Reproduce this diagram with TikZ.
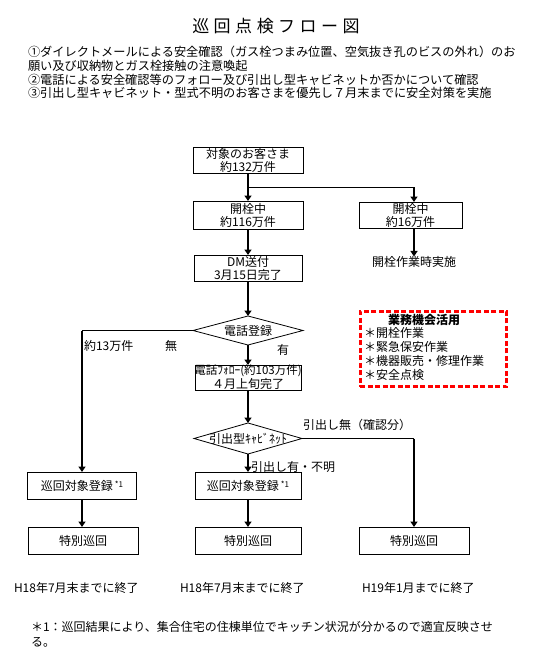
\documentclass[tikz,border=0pt]{standalone}
\usepackage{fontspec}
\setmainfont{Noto Sans CJK JP}
\usetikzlibrary{arrows.meta,shapes.geometric}
\newcommand\ttlgap{\hspace{4.5pt}}
\begin{document}
\begin{tikzpicture}[x=1pt,y=-1pt,
  every node/.style={inner sep=0pt, outer sep=0pt, font=\fontsize{12}{13}\selectfont},
  box/.style={draw, line width=0.8pt, align=center, inner sep=0pt, minimum height=26pt},
  dia/.style={draw, diamond, line width=0.8pt, inner sep=0pt},
  flow/.style={line width=2.6pt, -{Triangle[width=7pt,length=5.5pt]}},
  flowthin/.style={line width=1.8pt, -{Triangle[width=7pt,length=5.5pt]}},
  link/.style={line width=1pt},
  hdr/.style={anchor=west, font=\fontsize{12.2}{13}\selectfont},
  lbl/.style={font=\fontsize{12}{13}\selectfont},
  reddash/.style={draw=red, line width=2.6pt, dash pattern=on 5pt off 2.5pt},
]
\useasboundingbox (0,0) rectangle (540,663);

% title and header
\node[font=\fontsize{17}{18}\selectfont] (title) at (276,26)
  {巡\ttlgap 回\ttlgap 点\ttlgap 検\ttlgap フ\ttlgap ロ\ttlgap ー\ttlgap 図};
\node[hdr] (h1) at (28,52) {①ダイレクトメールによる安全確認（ガス栓つまみ位置、空気抜き孔のビスの外れ）のお};
\node[hdr] (h2) at (28,66) {願い及び収納物とガス栓接触の注意喚起};
\node[hdr] (h3) at (28,80) {②電話による安全確認等のフォロー及び引出し型キャビネットか否かについて確認};
\node[hdr] (h4) at (28,93) {③引出し型キャビネット・型式不明のお客さまを優先し７月末までに安全対策を実施};

% main column
\node[box, minimum width=110pt] (b1) at (248,160) {対象のお客さま\\約132万件};
\node[box, minimum width=110pt, minimum height=28pt] (b2) at (248,215) {開栓中\\約116万件};
\node[box, minimum width=103pt] (b2r) at (410.5,215) {開栓中\\約16万件};
\node[lbl] (kaisen) at (414,262) {開栓作業時実施};
\node[box, minimum width=108pt] (dm) at (248,268) {DM送付\\3月15日完了};
\node[dia, minimum width=110pt, minimum height=29pt, label={center:電話登録}] (d1) at (248,330.5) {};
\node[draw, line width=0.8pt, minimum width=106pt, minimum height=25pt] (fol) at (248,377.5) {};
\node[font=\fontsize{11.5}{13}\selectfont] (fol1) at (248,371) {電話ﾌｫﾛｰ(約103万件)};
\node[lbl] (fol2) at (248,384) {４月上旬完了};
\node[dia, minimum width=108pt, minimum height=31pt, label={center:引出型ｷｬﾋﾞﾈｯﾄ}] (d2) at (248,438.5) {};

% bottom boxes
\node[box, minimum width=109pt, minimum height=27pt] (regL) at (82,485.5)
  {巡回対象登録\,\raisebox{3pt}{\fontsize{8}{8}\selectfont *1}};
\node[box, minimum width=106pt, minimum height=27pt] (regM) at (248,485.5)
  {巡回対象登録\,\raisebox{3pt}{\fontsize{8}{8}\selectfont *1}};
\node[box, minimum width=110pt, minimum height=27pt] (spL) at (83,540.5) {特別巡回};
\node[box, minimum width=106pt, minimum height=27pt] (spM) at (248,540.5) {特別巡回};
\node[box, minimum width=110pt, minimum height=27pt] (spR) at (414,540.5) {特別巡回};

% junctions
\coordinate (j1) at (248,187);
\coordinate (j2) at (414,187);
\coordinate (cL) at (82,330.5);
\coordinate (cR) at (414,438.5);

% connectors
\draw[flow] (b1.south) -- (b2.north);
\draw[link] (j1) -- (j2);
\draw[flow] (j2) -- (j2 |- b2r.north);
\draw[flowthin] (b2r.south -| kaisen.north) -- (kaisen.north);
\draw[flow] (b2.south) -- (dm.north);
\draw[flow] (dm.south) -- (d1.north);
\draw[flow] (d1.south) -- (fol.north);
\draw[link] (d1.west) -- (cL);
\draw[flow] (cL) -- (cL |- regL.north);
\draw[flow] (fol.south) -- (d2.north);
\draw[link] (d2.east) -- (cR);
\draw[flow] (cR) -- (cR |- spR.north);
\draw[flow] (d2.south) -- (regM.north);
\draw[flow] (regL.south) -- (regL.south |- spL.north);
\draw[flow] (regM.south) -- (spM.north);

% branch labels
\node[lbl, anchor=west] (l13) at (84,346) {約13万件};
\node[lbl] (lmu) at (171,346) {無};
\node[lbl] (lyu) at (283,350) {有};
\node[lbl, anchor=west] (lnashi) at (303,425) {引出し無（確認分）};
\node[lbl, anchor=west] (lari) at (251,467) {引出し有・不明};

% deadlines
\node[lbl, anchor=west] (e1) at (14,588) {H18年7月末までに終了};
\node[lbl, anchor=west] (e2) at (180,588) {H18年7月末までに終了};
\node[lbl, anchor=west] (e3) at (362,588) {H19年1月までに終了};

% footnote
\node[anchor=north west, align=left, font=\fontsize{12}{15}\selectfont] (fn) at (31,621)
  {＊1：巡回結果により、集合住宅の住棟単位でキッチン状況が分かるので適宜反映させ\\る。};

% red dashed box
\node[reddash, minimum width=146.5pt, minimum height=75.5pt] (rb) at (433.5,349) {};
\node[font=\bfseries\fontsize{12}{13}\selectfont] (rbt) at (424,319.5) {業務機会活用};
\node[lbl, anchor=west] (r1) at (364,333) {＊開栓作業};
\node[lbl, anchor=west] (r2) at (364,347) {＊緊急保安作業};
\node[lbl, anchor=west] (r3) at (364,361) {＊機器販売・修理作業};
\node[lbl, anchor=west] (r4) at (364,375) {＊安全点検};
\end{tikzpicture}
\end{document}
